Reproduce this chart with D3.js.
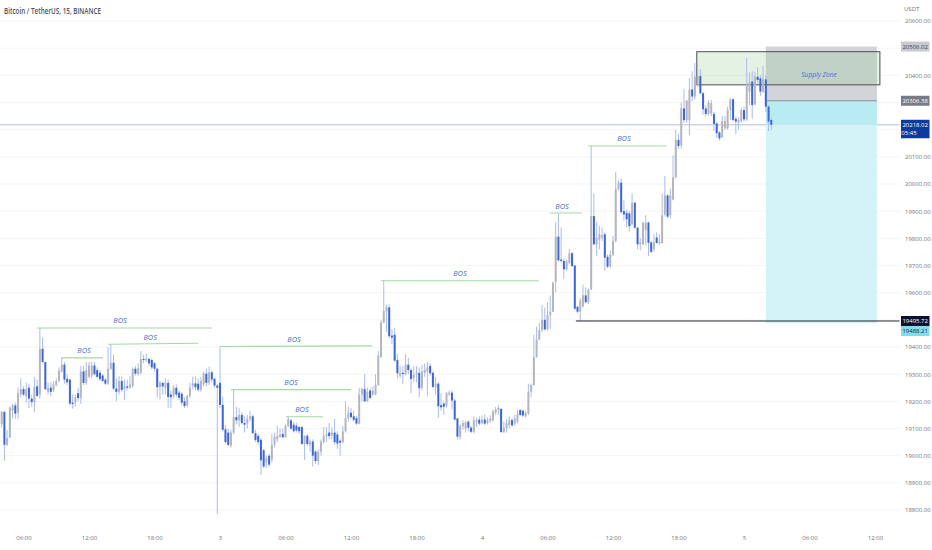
<!DOCTYPE html>
<html>
<head>
<meta charset="utf-8">
<script src="https://d3js.org/d3.v7.min.js"></script>
<style>
  html, body { margin: 0; background: #fff; }
  text { font-family: "Open Sans", sans-serif; }
  .axis text { fill: #6f727d; font-size: 6px; }
  .axis .domain, .axis line { display: none; }
</style>
</head>
<body>
<svg id="chart" width="932" height="550"></svg>
<script>
// 15 minute bars, first one at 04:00 on the 2nd
const opens = [
  19116,19161,19040,19067,19165,19185,19158,19225,19245,19220,
  19250,19210,19198,19255,19225,19393,19345,19235,19250,19240,
  19260,19275,19310,19335,19283,19280,19195,19195,19230,19213,
  19310,19268,19290,19295,19332,19315,19305,19295,19280,19266,
  19320,19342,19247,19235,19275,19245,19255,19250,19255,19320,
  19300,19305,19356,19352,19356,19352,19340,19320,19252,19268,
  19250,19268,19225,19220,19250,19232,19228,19200,19185,19220,
  19258,19266,19265,19243,19262,19302,19268,19307,19283,19258,
  19268,19187,19097,19085,19037,19085,19142,19130,19150,19120,
  19118,19135,19145,19083,19073,19058,19020,18975,19000,18985,
  19040,19060,19070,19080,19068,19110,19130,19114,19110,19105,
  19105,19043,19073,19040,19052,19015,18980,19015,19050,19072,
  19085,19075,19085,19078,19055,19050,19090,19138,19158,19145,
  19138,19118,19225,19245,19200,19240,19225,19225,19260,19364,
  19490,19530,19546,19442,19445,19352,19295,19305,19300,19335,
  19315,19285,19297,19305,19250,19305,19310,19330,19305,19252,
  19265,19186,19192,19183,19225,19232,19203,19137,19070,19108,
  19100,19125,19103,19088,19125,19133,19120,19133,19120,19128,
  19130,19158,19168,19172,19087,19102,19112,19131,19118,19125,
  19168,19165,19145,19155,19235,19260,19364,19428,19462,19500,
  19465,19518,19530,19640,19806,19722,19717,19686,19710,19745,
  19700,19548,19530,19550,19590,19565,19612,19882,19778,19795,
  19803,19815,19732,19697,19740,19790,19982,20005,19900,19894,
  19892,19851,19931,19839,19778,19778,19830,19858,19785,19760,
  19803,19783,19782,19888,19958,19885,19943,20025,20162,20143,
  20278,20235,20235,20348,20322,20365,20397,20334,20278,20258,
  20260,20258,20223,20190,20172,20205,20205,20272,20312,20240,
  20228,20232,20272,20238,20340,20377,20293,20395,20389,20340,
  20385,20285,20236
];
const highs = [
  19165,19165,19094,19180,19192,19195,19250,19285,19255,19270,
  19265,19225,19290,19280,19470,19435,19345,19268,19270,19275,
  19285,19325,19362,19345,19300,19282,19225,19225,19250,19330,
  19330,19345,19345,19345,19345,19325,19315,19300,19285,19400,
  19410,19372,19285,19293,19290,19280,19280,19292,19325,19330,
  19340,19385,19372,19375,19360,19358,19345,19322,19275,19272,
  19285,19280,19240,19260,19262,19240,19235,19215,19225,19268,
  19290,19292,19285,19290,19310,19320,19328,19315,19285,19265,
  19400,19218,19113,19100,19095,19245,19180,19175,19160,19145,
  19150,19165,19150,19095,19080,19065,19025,19000,19005,19080,
  19085,19110,19100,19100,19115,19145,19135,19125,19120,19110,
  19110,19075,19080,19060,19060,19020,19025,19060,19105,19105,
  19120,19105,19135,19090,19060,19110,19200,19180,19175,19165,
  19145,19250,19250,19300,19250,19250,19255,19300,19385,19500,
  19645,19555,19557,19465,19470,19375,19330,19330,19375,19360,
  19322,19330,19330,19325,19335,19340,19345,19340,19310,19290,
  19272,19230,19200,19235,19240,19240,19210,19140,19115,19130,
  19128,19130,19110,19145,19140,19145,19148,19152,19140,19148,
  19170,19180,19185,19175,19125,19135,19145,19138,19150,19170,
  19172,19172,19165,19265,19265,19445,19475,19490,19555,19545,
  19565,19590,19640,19860,19890,19840,19725,19722,19760,19750,
  19702,19552,19580,19630,19620,19615,20140,19965,19860,19845,
  19840,19822,19740,19755,19810,20045,20015,20020,19940,19905,
  19900,19965,19935,19842,19800,19860,19885,19862,19790,19815,
  19822,19815,19965,20030,19962,19983,20105,20200,20185,20300,
  20350,20310,20390,20415,20445,20430,20423,20340,20290,20310,
  20310,20265,20228,20195,20250,20250,20285,20315,20315,20248,
  20245,20280,20285,20465,20410,20415,20412,20430,20400,20435,
  20400,20290,20245
];
const lows = [
  19104,18981,19036,19065,19137,19135,19135,19215,19220,19195,
  19175,19180,19160,19215,19210,19340,19240,19225,19220,19235,
  19255,19270,19305,19265,19260,19185,19173,19180,19200,19190,
  19260,19260,19285,19285,19295,19285,19275,19270,19260,19260,
  19315,19240,19200,19225,19235,19205,19240,19245,19250,19295,
  19295,19300,19340,19345,19330,19318,19310,19215,19207,19225,
  19225,19175,19175,19210,19215,19205,19185,19175,19178,19212,
  19245,19240,19235,19235,19255,19255,19260,19270,19250,18785,
  19175,19090,19045,19035,19030,19080,19115,19105,19115,19085,
  19100,19125,19080,19050,19040,18930,18955,18955,18960,18975,
  19030,19050,19065,19065,19065,19105,19095,19085,19085,19080,
  19040,18985,19035,19015,18960,18970,18965,19000,19045,19050,
  19060,19060,19040,19025,19000,19045,19085,19125,19135,19125,
  19112,19115,19200,19198,19198,19210,19220,19222,19258,19360,
  19488,19455,19432,19410,19345,19285,19285,19265,19295,19300,
  19230,19270,19270,19215,19240,19290,19220,19295,19250,19225,
  19140,19165,19150,19178,19220,19170,19130,19060,19060,19095,
  19085,19090,19083,19082,19105,19110,19115,19112,19115,19120,
  19125,19150,19150,19083,19083,19085,19100,19105,19110,19118,
  19145,19142,19140,19150,19215,19258,19360,19425,19455,19460,
  19460,19465,19528,19600,19715,19712,19650,19680,19705,19695,
  19535,19525,19495,19545,19560,19558,19610,19775,19735,19760,
  19790,19680,19690,19690,19735,19785,19975,19890,19865,19840,
  19825,19850,19835,19760,19755,19775,19775,19735,19745,19750,
  19780,19775,19780,19880,19875,19875,19940,20020,20130,20130,
  20225,20225,20180,20305,20312,20358,20330,20255,20250,20253,
  20250,20195,20170,20160,20170,20200,20200,20235,20230,20185,
  20200,20225,20230,20232,20290,20240,20290,20370,20325,20335,
  20265,20195,20198
];
const closes = [
  19161,19040,19065,19177,19185,19155,19230,19245,19225,19245,
  19210,19197,19253,19220,19393,19345,19245,19250,19235,19262,
  19275,19312,19335,19280,19270,19192,19190,19215,19212,19310,
  19268,19315,19332,19332,19300,19290,19282,19275,19265,19320,
  19342,19247,19235,19275,19242,19255,19250,19262,19320,19302,
  19322,19356,19352,19358,19340,19325,19320,19252,19268,19255,
  19268,19216,19215,19250,19225,19213,19195,19183,19220,19250,
  19266,19252,19243,19275,19302,19268,19307,19280,19258,19250,
  19187,19095,19050,19040,19085,19142,19130,19150,19120,19114,
  19135,19145,19083,19058,19050,18983,18960,18990,18967,19040,
  19070,19073,19078,19068,19110,19135,19100,19090,19093,19090,
  19043,19073,19043,19052,19000,18980,19015,19052,19072,19078,
  19072,19085,19050,19045,19048,19090,19138,19158,19142,19132,
  19118,19225,19245,19200,19235,19212,19240,19260,19368,19490,
  19532,19546,19440,19435,19350,19303,19305,19300,19335,19315,
  19282,19297,19305,19248,19310,19315,19325,19303,19253,19265,
  19182,19178,19180,19230,19232,19203,19133,19070,19110,19120,
  19122,19103,19088,19130,19131,19118,19133,19118,19130,19137,
  19162,19170,19175,19087,19103,19120,19130,19112,19137,19153,
  19150,19148,19158,19235,19260,19364,19428,19462,19500,19465,
  19518,19530,19637,19806,19719,19717,19686,19716,19745,19698,
  19541,19530,19570,19590,19565,19612,19882,19778,19802,19815,
  19812,19729,19696,19740,19790,19982,20005,19897,19888,19870,
  19845,19931,19839,19778,19784,19858,19858,19783,19750,19785,
  19783,19788,19885,19958,19880,19958,20025,20163,20140,20278,
  20235,20307,20348,20322,20395,20397,20334,20275,20258,20300,
  20298,20221,20187,20168,20230,20232,20272,20312,20236,20230,
  20235,20272,20238,20361,20375,20291,20395,20383,20340,20385,
  20285,20230,20218
];

// price axis
const priceTicks = [20600,20400,20100,20000,19900,19800,19700,19600,19400,19300,19200,19100,19000,18900,18800];
const gridPrices = [20600,20500,20400,20300,20200,20100,20000,19900,19800,19700,19600,19500,19400,19300,19200,19100,19000,18900,18800];

// time axis
const timeTicks = [
  Date.UTC(2022,10,2,6), Date.UTC(2022,10,2,12), Date.UTC(2022,10,2,18),
  Date.UTC(2022,10,3,0), Date.UTC(2022,10,3,6), Date.UTC(2022,10,3,12), Date.UTC(2022,10,3,18),
  Date.UTC(2022,10,4,0), Date.UTC(2022,10,4,6), Date.UTC(2022,10,4,12), Date.UTC(2022,10,4,18),
  Date.UTC(2022,10,5,0), Date.UTC(2022,10,5,6), Date.UTC(2022,10,5,12)
];

// BOS drawings, in bars and prices
const bosStart = [13, 39, 22.1, 80, 84, 104.2, 139, 200.9, 214.8];
const bosEnd = [77.1, 72, 37.1, 135.7, 128, 117.7, 196.8, 212.6, 243.7];
const bosPrice = [19470, 19410, 19360, 19402, 19243, 19143, 19644, 19893, 20140];
const bosEndPrice = [19470, 19414, 19360, 19404, 19243, 19143, 19644, 19893, 20140];
const bosLabelBar = [43.4, 54.4, 30.2, 107.1, 106, 110, 167.9, 205.3, 228];

// position tool and supply zone
const tradeStartBar = 280, tradeEndBar = 320.7;
const stopPrice = 20506.02, entryPrice = 20306.38, lastPrice = 20218.02, targetPrice = 19488.21;
const zoneStartBar = 254.7, zoneEndBar = 321.8, zoneTop = 20487, zoneBottom = 20365;
const lowLineStartBar = 210.4, lowLineEndBar = 329, lowLinePrice = 19495.72;

const t0 = Date.UTC(2022,10,2,4);
const barTime = i => t0 + i * 15 * 60 * 1000;

const x = d3.scaleUtc()
  .domain([Date.UTC(2022,10,3), Date.UTC(2022,10,5)])
  .range([220, 744]);
const y = d3.scaleLinear()
  .domain([18800, 20600])
  .range([510, 21]);

const xBar = i => x(barTime(i));
const svg = d3.select('#chart');

// grid
svg.append('g').selectAll('line')
  .data(gridPrices)
  .join('line')
  .attr('x1', 0)
  .attr('x2', 900)
  .attr('y1', d => y(d))
  .attr('y2', d => y(d))
  .attr('stroke', '#f4f5f7');

// last price line
svg.append('line')
  .attr('x1', 0).attr('x2', 900)
  .attr('y1', y(lastPrice)).attr('y2', y(lastPrice))
  .attr('stroke', '#cdd2ec')
  .attr('stroke-width', 1.6);

// position tool
function band(top, bottom, fill, startBar, endBar) {
  svg.append('rect')
    .attr('x', xBar(startBar))
    .attr('y', y(top))
    .attr('width', xBar(endBar) - xBar(startBar))
    .attr('height', y(bottom) - y(top))
    .attr('fill', fill);
}
band(stopPrice, entryPrice, '#d3d4d8', tradeStartBar, tradeEndBar);
band(entryPrice, lastPrice, '#b8ecf2', tradeStartBar, tradeEndBar);
band(lastPrice, targetPrice, '#d4f3f7', tradeStartBar, tradeEndBar);

svg.append('line')
  .attr('x1', xBar(tradeStartBar)).attr('x2', xBar(tradeEndBar))
  .attr('y1', y(entryPrice)).attr('y2', y(entryPrice))
  .attr('stroke', '#8a8d96');

// supply zone
svg.append('rect')
  .attr('x', xBar(zoneStartBar))
  .attr('y', y(zoneTop))
  .attr('width', xBar(zoneEndBar) - xBar(zoneStartBar))
  .attr('height', y(zoneBottom) - y(zoneTop))
  .attr('fill', 'rgba(139,200,139,0.23)')
  .attr('stroke', '#4a4f52')
  .attr('stroke-width', 1);

svg.append('text')
  .attr('x', 819).attr('y', y(20400) + 2)
  .attr('text-anchor', 'middle')
  .attr('fill', '#4a6fd6')
  .style('font-size', '6.6px')
  .style('font-style', 'italic')
  .text('Supply Zone');

// candles
const bars = d3.range(opens.length);
svg.append('g').selectAll('line')
  .data(bars)
  .join('line')
  .attr('x1', i => xBar(i))
  .attr('x2', i => xBar(i))
  .attr('y1', i => y(highs[i]))
  .attr('y2', i => y(lows[i]))
  .attr('stroke', '#a9bcf0')
  .attr('stroke-width', 1);

svg.append('g').selectAll('rect')
  .data(bars)
  .join('rect')
  .attr('x', i => xBar(i) - 1)
  .attr('y', i => y(Math.max(opens[i], closes[i])))
  .attr('width', 2)
  .attr('height', i => Math.max(1, Math.abs(y(opens[i]) - y(closes[i]))))
  .attr('fill', i => closes[i] >= opens[i] ? '#b4b6bc' : '#3c66d8');

// BOS lines
svg.append('g').selectAll('line')
  .data(bosStart)
  .join('line')
  .attr('x1', (d, i) => xBar(d))
  .attr('x2', (d, i) => xBar(bosEnd[i]))
  .attr('y1', (d, i) => y(bosPrice[i]))
  .attr('y2', (d, i) => y(bosEndPrice[i]))
  .attr('stroke', '#a3d9a5')
  .attr('stroke-width', 1.1);

svg.append('g').selectAll('text')
  .data(bosLabelBar)
  .join('text')
  .attr('x', d => xBar(d))
  .attr('y', (d, i) => y(bosPrice[i]) - 4.5)
  .attr('text-anchor', 'middle')
  .attr('fill', '#4a6fd6')
  .style('font-size', '7.4px')
  .style('font-style', 'italic')
  .text('BOS');

// low line runs into the price scale
svg.append('line')
  .attr('x1', xBar(lowLineStartBar)).attr('x2', xBar(lowLineEndBar))
  .attr('y1', y(lowLinePrice)).attr('y2', y(lowLinePrice))
  .attr('stroke', '#1e222d')
  .attr('stroke-width', 1);

// axes
svg.append('g')
  .attr('class', 'axis')
  .attr('transform', 'translate(900,0)')
  .call(d3.axisRight(y).tickValues(priceTicks).tickSize(0).tickPadding(5).tickFormat(d3.format('.2f')));

svg.append('g')
  .attr('class', 'axis')
  .attr('transform', 'translate(0,533)')
  .call(d3.axisBottom(x).tickValues(timeTicks.map(t => new Date(t))).tickSize(0).tickPadding(3)
    .tickFormat(d => d.getUTCHours() === 0 ? String(d.getUTCDate()) : d3.utcFormat('%H:%M')(d)));

// price tags on the scale
const tagLabels = ['20506.02', '20306.38', '19495.72', '19488.21'];
const tagPrices = [stopPrice, entryPrice, lowLinePrice, targetPrice];
const tagFills = ['#c8cacf', '#787b86', '#0b1230', '#80deea'];
const tagText = ['#3a3d46', '#ffffff', '#ffffff', '#1b2a3a'];
const tagShift = [0, 0, 0, 8];

const tags = svg.append('g').selectAll('g')
  .data(tagLabels)
  .join('g')
  .attr('transform', (d, i) => `translate(901,${y(tagPrices[i]) + tagShift[i]})`);
tags.append('rect')
  .attr('y', -5).attr('width', 28.5).attr('height', 10)
  .attr('fill', (d, i) => tagFills[i]);
tags.append('text')
  .attr('x', 14.2).attr('y', 2)
  .attr('text-anchor', 'middle')
  .attr('fill', (d, i) => tagText[i])
  .style('font-size', '6px')
  .text(d => d);

const lastTag = svg.append('g').attr('transform', `translate(901,${y(lastPrice)})`);
lastTag.append('rect')
  .attr('y', -5).attr('width', 28.5).attr('height', 18.5)
  .attr('fill', '#0d3a9e');
lastTag.selectAll('text')
  .data(['20218.02', '05:45'])
  .join('text')
  .attr('x', (d, i) => i === 0 ? 14.2 : 8)
  .attr('y', (d, i) => 2 + i * 8.5)
  .attr('text-anchor', 'middle')
  .attr('fill', '#ffffff')
  .style('font-size', '6px')
  .text(d => d);

// header
svg.append('text')
  .attr('x', 904).attr('y', 11)
  .attr('fill', '#6f727d')
  .style('font-size', '6px')
  .text('USDT');

svg.append('text')
  .attr('x', 4).attr('y', 14)
  .attr('fill', '#50535e')
  .attr('textLength', 97)
  .attr('lengthAdjust', 'spacingAndGlyphs')
  .style('font-size', '8.5px')
  .style('font-weight', 600)
  .text('Bitcoin / TetherUS, 15, BINANCE');
</script>
</body>
</html>
